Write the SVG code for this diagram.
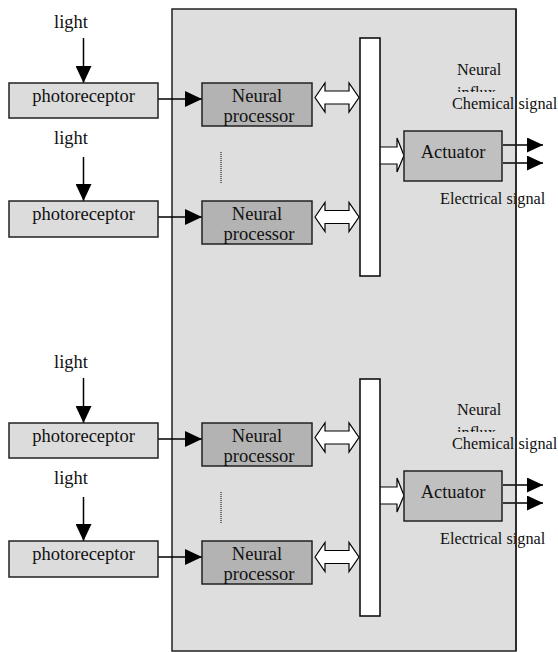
<svg xmlns="http://www.w3.org/2000/svg" width="558" height="652" viewBox="0 0 558 652">
<style>
text{font-family:"Liberation Serif","Times New Roman",serif;fill:#111}
.big{font-size:18.5px}
.sm{font-size:16.3px}
.mid{text-anchor:middle}
.pr{fill:#dcdcdc;stroke:#222;stroke-width:1.5}
.np{fill:#b3b3b3;stroke:#222;stroke-width:1.5}
.ac{fill:#c0c0c0;stroke:#222;stroke-width:1.5}
.bus{fill:#fff;stroke:#111;stroke-width:1.6}
.ln{stroke:#000;stroke-width:1.5;fill:none}
.blk{fill:#fff;stroke:#000;stroke-width:1.2}
.dot{stroke:#000;stroke-width:1;stroke-dasharray:1 1}
</style>
<defs>
<marker id="ah" markerUnits="userSpaceOnUse" markerWidth="17" markerHeight="16" refX="17" refY="8" orient="auto">
<path d="M0,0 L17,8 L0,16 z" fill="#000"/>
</marker>
<marker id="ah2" markerUnits="userSpaceOnUse" markerWidth="16" markerHeight="15" refX="16" refY="7.5" orient="auto">
<path d="M0,0 L16,7.5 L0,15 z" fill="#000"/>
</marker>
<clipPath id="cinf1"><rect x="440" y="80" width="100" height="12"/></clipPath>
<clipPath id="cinf2"><rect x="440" y="420" width="100" height="12"/></clipPath>
</defs>

<g id="panel"><rect x="172" y="9" width="344" height="642" fill="#dedede" stroke="#222" stroke-width="1.5"/></g>

<g id="connectors">
<line class="ln" x1="83.5" y1="38" x2="83.5" y2="83" marker-end="url(#ah)"/>
<line class="ln" x1="83.5" y1="157" x2="83.5" y2="201" marker-end="url(#ah)"/>
<line class="ln" x1="158" y1="99" x2="202" y2="99" marker-end="url(#ah)"/>
<line class="ln" x1="158" y1="217" x2="202" y2="217" marker-end="url(#ah)"/>
<line class="dot" x1="221" y1="152" x2="221" y2="183"/>
<path class="blk" d="M315,97.5 L325,83 L325,91 L349,91 L349,83 L359,97.5 L349,112 L349,104 L325,104 L325,112 Z"/>
<path class="blk" d="M315,217 L325,202.5 L325,210.5 L349,210.5 L349,202.5 L359,217 L349,231.5 L349,223.5 L325,223.5 L325,231.5 Z"/>
<path class="blk" d="M380,147 L397,147 L397,138 L404,155.5 L397,172 L397,164 L380,164"/>
<line class="ln" x1="503" y1="145" x2="543" y2="145" marker-end="url(#ah2)"/>
<line class="ln" x1="503" y1="163" x2="543" y2="163" marker-end="url(#ah2)"/>

<line class="ln" x1="83.5" y1="378" x2="83.5" y2="423" marker-end="url(#ah)"/>
<line class="ln" x1="83.5" y1="497" x2="83.5" y2="541" marker-end="url(#ah)"/>
<line class="ln" x1="158" y1="439" x2="202" y2="439" marker-end="url(#ah)"/>
<line class="ln" x1="158" y1="557" x2="202" y2="557" marker-end="url(#ah)"/>
<line class="dot" x1="221" y1="492" x2="221" y2="523"/>
<path class="blk" d="M315,437.5 L325,423 L325,431 L349,431 L349,423 L359,437.5 L349,452 L349,444 L325,444 L325,452 Z"/>
<path class="blk" d="M315,557 L325,542.5 L325,550.5 L349,550.5 L349,542.5 L359,557 L349,571.5 L349,563.5 L325,563.5 L325,571.5 Z"/>
<path class="blk" d="M380,487 L397,487 L397,478 L404,495.5 L397,512 L397,504 L380,504"/>
<line class="ln" x1="503" y1="485" x2="543" y2="485" marker-end="url(#ah2)"/>
<line class="ln" x1="503" y1="503" x2="543" y2="503" marker-end="url(#ah2)"/>
</g>

<g id="light1"><text class="big mid" x="71" y="27.5">light</text></g>
<g id="light2"><text class="big mid" x="71" y="144">light</text></g>
<g id="photo1"><rect class="pr" x="9" y="83" width="149" height="35"/><text class="big mid" x="83.5" y="102">photoreceptor</text></g>
<g id="photo2"><rect class="pr" x="9" y="201" width="149" height="36"/><text class="big mid" x="83.5" y="220">photoreceptor</text></g>
<g id="np1"><rect class="np" x="202" y="83" width="110" height="43"/><text class="big mid" x="257" y="101.5">Neural</text><text class="big mid" x="259" y="122">processor</text></g>
<g id="np2"><rect class="np" x="202" y="201" width="110" height="43"/><text class="big mid" x="257" y="219.5">Neural</text><text class="big mid" x="259" y="240">processor</text></g>
<g id="bus1"><rect class="bus" x="360" y="38" width="20" height="238"/></g>
<g id="act1"><rect class="ac" x="404" y="131" width="98" height="50"/><text class="big mid" x="453" y="158">Actuator</text></g>
<g id="labels1">
<text class="sm" x="457" y="75">Neural</text>
<text class="sm" x="457" y="98" clip-path="url(#cinf1)">influx</text>
<text class="sm" x="452" y="109">Chemical signal</text>
<text class="sm" x="440" y="204">Electrical signal</text>
</g>

<g id="light3"><text class="big mid" x="71" y="367.5">light</text></g>
<g id="light4"><text class="big mid" x="71" y="484">light</text></g>
<g id="photo3"><rect class="pr" x="9" y="423" width="149" height="35"/><text class="big mid" x="83.5" y="442">photoreceptor</text></g>
<g id="photo4"><rect class="pr" x="9" y="541" width="149" height="36"/><text class="big mid" x="83.5" y="560">photoreceptor</text></g>
<g id="np3"><rect class="np" x="202" y="423" width="110" height="43"/><text class="big mid" x="257" y="441.5">Neural</text><text class="big mid" x="259" y="462">processor</text></g>
<g id="np4"><rect class="np" x="202" y="541" width="110" height="43"/><text class="big mid" x="257" y="559.5">Neural</text><text class="big mid" x="259" y="580">processor</text></g>
<g id="bus2"><rect class="bus" x="360" y="379" width="20" height="237"/></g>
<g id="act2"><rect class="ac" x="404" y="471" width="98" height="50"/><text class="big mid" x="453" y="498">Actuator</text></g>
<g id="labels2">
<text class="sm" x="457" y="415">Neural</text>
<text class="sm" x="457" y="438" clip-path="url(#cinf2)">influx</text>
<text class="sm" x="452" y="449">Chemical signal</text>
<text class="sm" x="440" y="544">Electrical signal</text>
</g>
<g id="panelEdge"><line x1="516" y1="9" x2="516" y2="651" stroke="#222" stroke-width="1.5"/></g>
</svg>
